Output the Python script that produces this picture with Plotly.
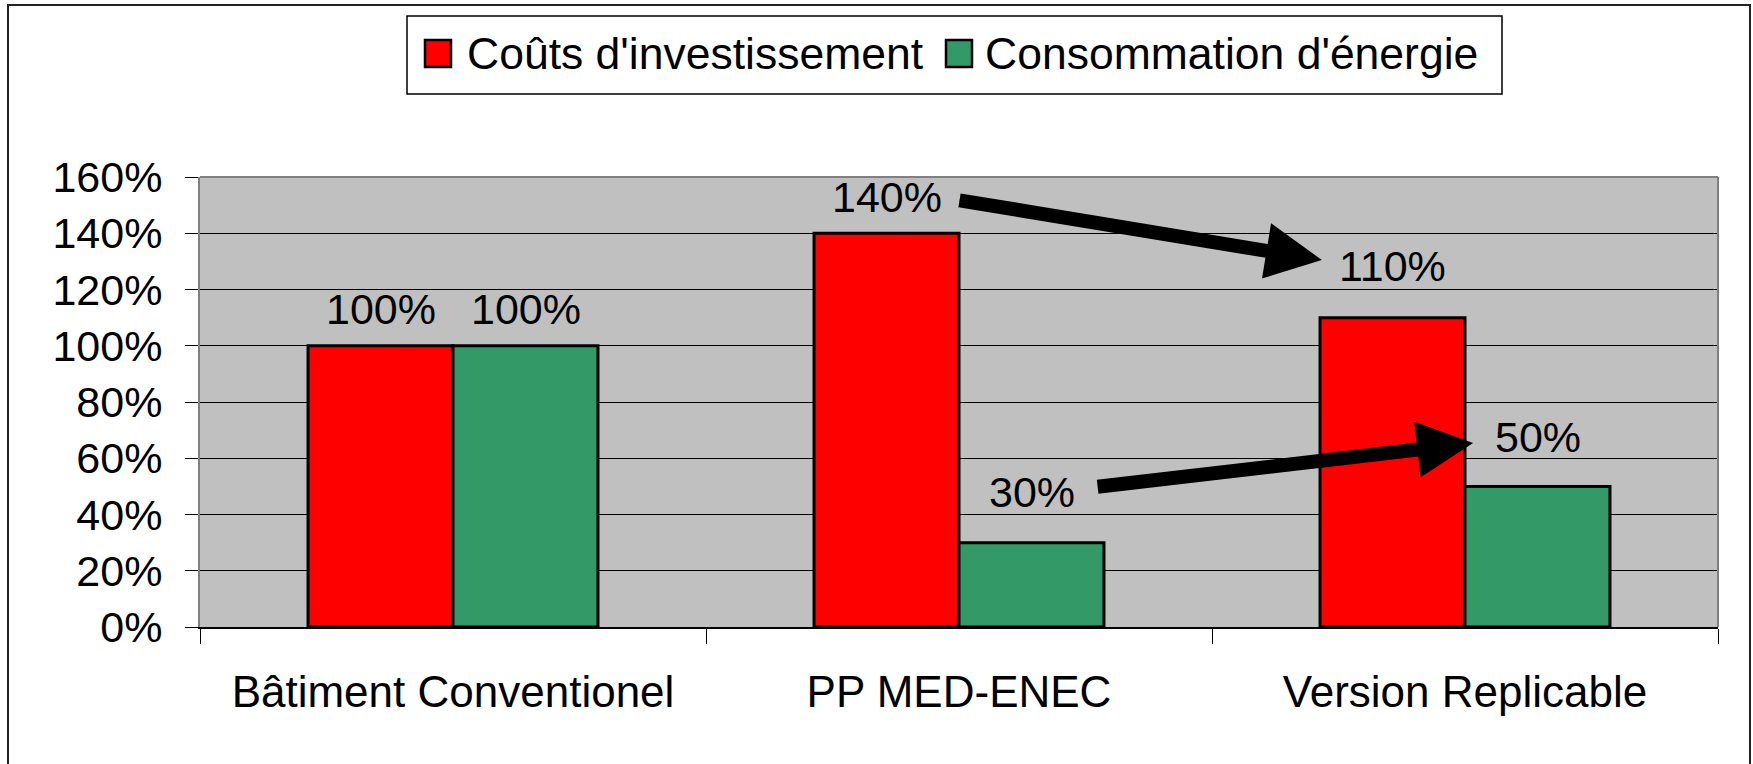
import plotly.graph_objects as go

categories = ["Bâtiment Conventionel", "PP MED-ENEC", "Version Replicable"]
invest_costs = [100, 140, 110]
energy_use = [100, 30, 50]
series_names = ["Coûts d'investissement", "Consommation d'énergie"]
y_ticks = [0, 20, 40, 60, 80, 100, 120, 140, 160]
y_tick_labels = ["0%", "20%", "40%", "60%", "80%", "100%", "120%", "140%", "160%"]

RED = "#FF0000"
GREEN = "#339966"
FONT = "Arial, Liberation Sans, sans-serif"

# plot area in pixels: x 200..1718, y 177..627
W, H = 1753, 764
L, R, T, B = 200, 35, 177, 137
pw, ph = W - L - R, H - T - B


def px(x):
    return (x - L) / pw


def py(y):
    return (H - B - y) / ph


fig = go.Figure()
for name, vals, col in [(series_names[0], invest_costs, RED),
                        (series_names[1], energy_use, GREEN)]:
    fig.add_trace(go.Bar(
        x=categories, y=vals, name=name, showlegend=False,
        marker=dict(color=col, line=dict(color="black", width=3)),
    ))

annotations = []
# value labels, lifted above the bar tops like in the source chart
lift = [[37, 36, 52], [37, 51, 49]]
for s, vals in enumerate([invest_costs, energy_use]):
    for i, v in enumerate(vals):
        annotations.append(dict(
            x=categories[i], y=v, xref="x", yref="y", text=f"{v}%",
            showarrow=False, xshift=-72.5 if s == 0 else 72.5,
            yshift=lift[s][i], yanchor="middle",
            font=dict(size=43, color="black", family=FONT),
        ))

# trend arrows
for (x0, y0, x1, y1) in [(0.998, 151.8, 1.717, 130.5), (1.271, 49.8, 2.016, 65.4)]:
    annotations.append(dict(
        x=x1, y=y1, ax=x0, ay=y0, xref="x", yref="y", axref="x", ayref="y",
        text="", showarrow=True, arrowhead=2, arrowsize=0.8, arrowwidth=14,
        arrowcolor="black", standoff=0,
    ))

# legend drawn by hand (large swatches)
shapes = [
    dict(type="rect", xref="paper", yref="paper",
         x0=px(8), x1=px(1750), y0=py(765), y1=py(5),
         line=dict(color="#222222", width=2), fillcolor="rgba(0,0,0,0)"),
    dict(type="rect", xref="paper", yref="paper",
         x0=px(407), x1=px(1502), y0=py(94), y1=py(16),
         line=dict(color="black", width=1.5), fillcolor="white"),
    dict(type="rect", xref="paper", yref="paper",
         x0=px(425), x1=px(451), y0=py(67), y1=py(40),
         line=dict(color="black", width=2.5), fillcolor=RED),
    dict(type="rect", xref="paper", yref="paper",
         x0=px(946), x1=px(972), y0=py(67), y1=py(40),
         line=dict(color="black", width=2.5), fillcolor=GREEN),
    # plot frame top/right
    dict(type="line", xref="paper", yref="paper", x0=0, x1=1, y0=1, y1=1,
         line=dict(color="#808080", width=2)),
    dict(type="line", xref="paper", yref="paper", x0=1, x1=1, y0=0, y1=1,
         line=dict(color="#808080", width=2)),
]
for xs, text in [(465, series_names[0]), (983, series_names[1])]:
    annotations.append(dict(
        x=px(xs), y=py(53), xref="paper", yref="paper", text=text,
        showarrow=False, xanchor="left", yanchor="middle",
        font=dict(size=44.5, color="black", family=FONT),
    ))

fig.update_layout(
    width=W, height=H,
    margin=dict(l=L, r=R, t=T, b=B),
    paper_bgcolor="white", plot_bgcolor="#C0C0C0",
    barmode="group", bargap=0.427, bargroupgap=0,
    font=dict(family=FONT, size=42, color="black"),
    annotations=annotations, shapes=shapes,
)
fig.update_xaxes(
    showline=True, linecolor="black", linewidth=2,
    ticks="outside", tickson="boundaries", ticklen=15, tickcolor="black",
    tickwidth=1, ticklabelstandoff=25,
    tickfont=dict(size=44, family=FONT), showgrid=False,
)
fig.update_yaxes(
    range=[0, 160], tickvals=y_ticks, ticktext=y_tick_labels,
    showline=True, linecolor="#808080", linewidth=2,
    ticks="outside", ticklen=13, tickcolor="black", tickwidth=1,
    ticklabelstandoff=14,
    showgrid=True, gridcolor="black", gridwidth=1, zeroline=False,
    tickfont=dict(size=43, family=FONT),
)

fig.write_html(
    "out.html",
    config={"displayModeBar": False},
    post_script="document.body.style.margin='0';document.body.style.overflow='hidden';",
)
